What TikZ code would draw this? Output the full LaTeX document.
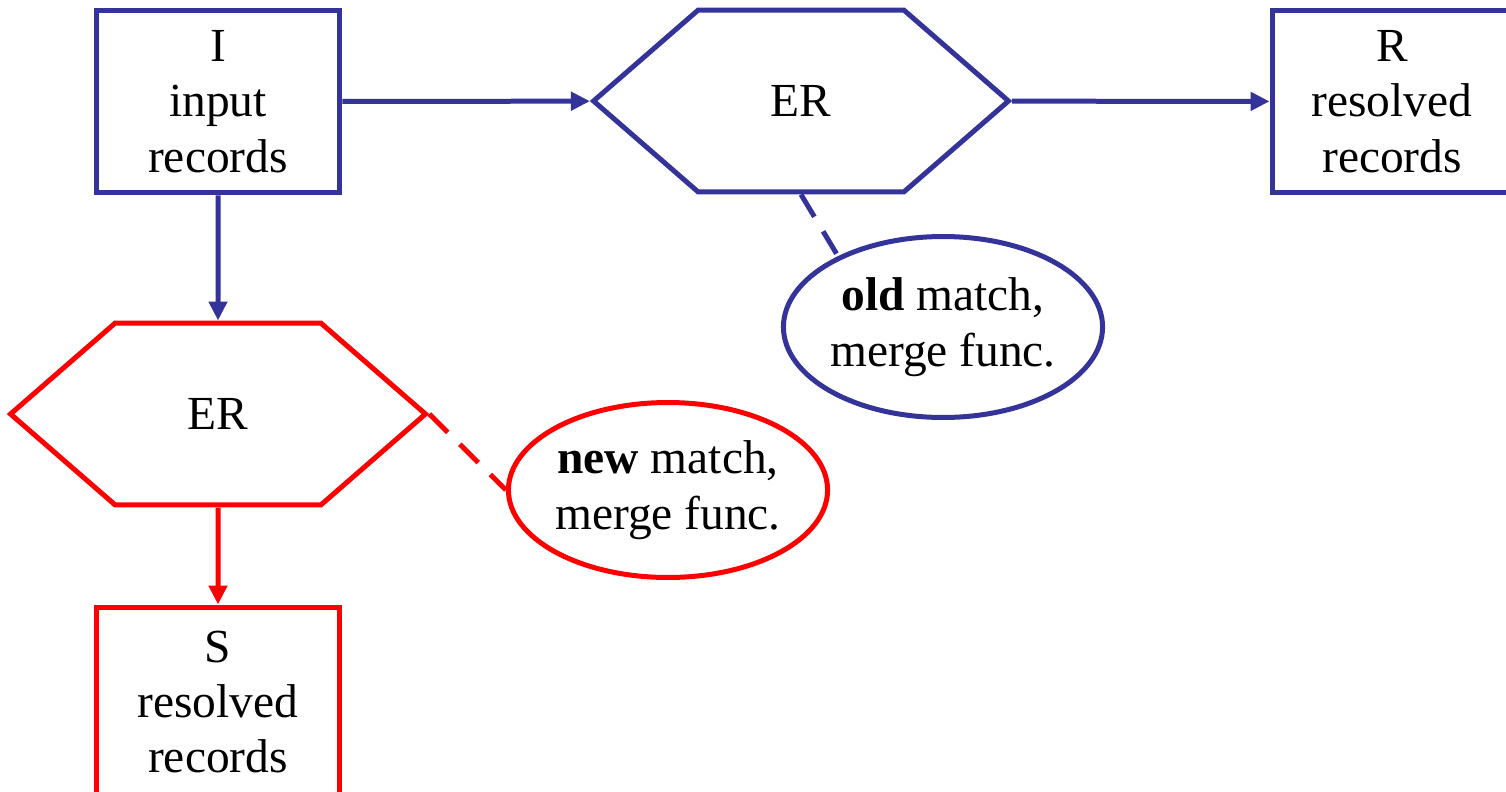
\documentclass[tikz,border=0pt]{standalone}
\usepackage{fontspec}
\setmainfont{Liberation Serif}
\usetikzlibrary{shapes.symbols,shapes.geometric,arrows.meta}

\definecolor{erblue}{HTML}{333399}
\definecolor{erred}{HTML}{FF0000}

\tikzset{
    recbox/.style={draw=#1, line width=0.1cm, minimum width=4.88cm, minimum height=3.66cm,
        inner sep=0pt, align=center, font=\fontsize{27}{31.5}\selectfont},
    erhex/.style={draw=#1, line width=0.1cm, signal, signal to=west and east,
        signal pointer angle=82, minimum width=8.3cm, minimum height=3.64cm,
        inner sep=0pt, font=\fontsize{27}{31.5}\selectfont},
    funcell/.style={draw=#1, line width=0.1cm, ellipse, minimum width=6.32cm,
        inner sep=0pt, align=center, font=\fontsize{27}{31.5}\selectfont},
    flow/.style={draw=#1, line width=0.1cm, -{Triangle[length=0.38cm, width=0.36cm]}},
    link/.style={draw=#1, line width=0.1cm, dash pattern=on 0.52cm off 0.34cm}
}

\begin{document}
\begin{tikzpicture}[x=0.02cm, y=-0.02cm]
        \useasboundingbox (0,0) rectangle (1506,791);

        % Old ER
        \node[recbox=erblue] (inrec) at (218,101.5) {I\\input\\records};
        \node[erhex=erblue] (erold) at (801,101) {ER};
        \node[recbox=erblue, minimum width=4.8cm] (resR) at (1392,101.5) {R\\resolved\\records};
        \node[funcell=erblue, minimum height=3.62cm] (oldfn) at (943,327) {\textbf{old} match,\\merge func.};

        \draw[flow=erblue] (inrec) -- (erold);
        \draw[flow=erblue] (erold) -- (resR);
        \draw[link=erblue] (erold.south) -- (oldfn.146);

        % New ER
        \node[erhex=erred] (ernew) at (218,414) {ER};
        \node[recbox=erred, minimum height=3.8cm] (resS) at (218,702) {S\\resolved\\records};
        \node[funcell=erred, minimum height=3.5cm] (newfn) at (668,490) {\textbf{new} match,\\merge func.};

        \draw[flow=erblue] (inrec) -- (ernew);
        \draw[flow=erred] (ernew) -- (resS);
        \draw[link=erred] (ernew.east) -- (newfn.west);
    \end{tikzpicture}
\end{document}
